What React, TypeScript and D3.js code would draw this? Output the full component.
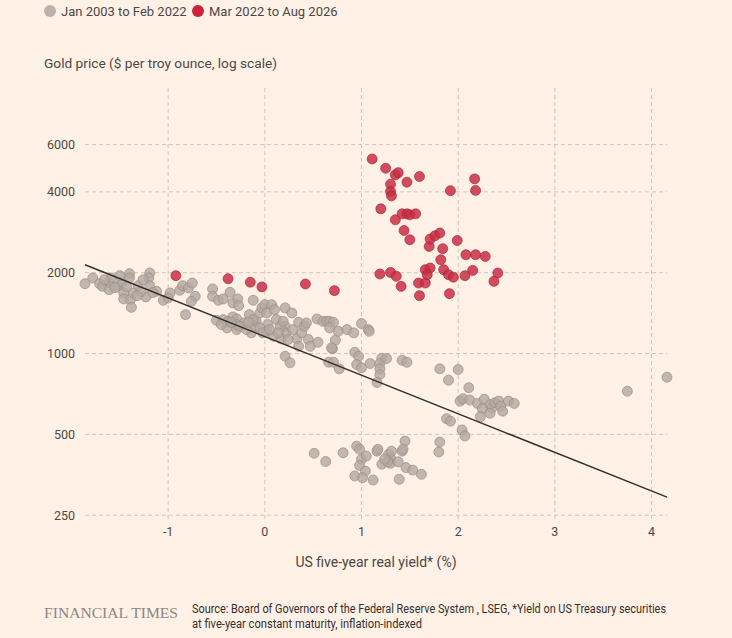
import React from "react";
import * as d3 from "d3";

// [real yield %, gold price $]
const earlyPoints: [number, number][] = [
  [-1.86,1820],[-1.78,1911],[-1.71,1820],[-1.68,1779],[-1.61,1840],[-1.61,1729],[-1.59,1911],[-1.52,1779],
  [-1.48,1840],[-1.46,1681],[-1.46,1597],[-1.40,1983],[-1.40,1911],[-1.39,1588],[-1.38,1486],[-1.36,1681],
  [-1.31,1789],[-1.23,1625],[-1.19,1995],[-1.20,1911],[-1.19,1789],[-1.12,1705],[-1.05,1578],[-0.98,1681],
  [-1.00,1611],[-0.88,1720],[-0.85,1789],[-0.79,1754],[-0.75,1830],[-0.72,1633],[-0.76,1565],[-0.82,1396],
  [-0.54,1740],[-0.54,1633],[-0.48,1578],[-0.43,1597],[-0.36,1690],[-0.33,1544],[-0.28,1597],[-0.27,1508],
  [-0.12,1578],[-1.55,1759],[-1.43,1774],[-1.28,1700],[-1.50,1950],[-1.66,1882],[-1.32,1643],[-1.16,1686],
  [-1.26,1882],
  [-0.50,1330],[-0.43,1338],[-0.38,1318],[-0.33,1369],[-0.29,1345],[-0.39,1246],[-0.29,1228],[-0.29,1282],
  [-0.21,1300],[-0.16,1396],[-0.14,1194],[-0.10,1263],[-0.09,1318],[-0.05,1416],[-0.03,1479],[0.00,1521],
  [0.02,1416],[0.03,1282],[0.02,1210],[0.07,1521],[0.10,1457],[0.12,1338],[0.09,1160],[0.17,1134],
  [0.21,1479],[0.21,1263],[0.22,1194],[0.28,1416],[0.29,1228],[0.35,1307],[0.33,1134],[0.38,1194],
  [0.41,1263],[0.43,1300],[0.45,1127],[0.47,1064],[0.35,1064],[0.24,1127],[0.54,1345],[0.55,1101],
  [0.60,1318],[0.64,1318],[0.67,1318],[0.71,1307],[0.67,1246],[0.73,1121],[0.70,1041],[0.76,1210],
  [0.85,1228],[0.92,1194],[1.00,1293],[1.07,1228],[1.08,1210],[0.69,1050],
  [0.21,977],[0.26,924],[0.66,928],[0.71,928],[0.77,877],[0.93,1011],[0.97,977],[0.95,910],
  [1.00,885],[1.09,918],[1.21,960],[1.19,918],[1.19,877],[1.19,835],[1.16,780],[1.26,958],
  [-0.26,1263],[-0.19,1228],[-0.05,1246],[-0.02,1194],[0.05,1228],[0.16,1263],[0.19,1318],[0.14,1194],
  [-0.12,1338],[-0.17,1307],[-0.35,1307],[-0.45,1282],
  [1.42,944],[1.47,928],[1.81,877],[2.00,872],[1.90,796],[2.11,746],[2.02,665],[2.05,679],
  [2.12,671],[2.20,652],[2.27,675],[2.25,623],[2.33,646],[2.35,628],[2.38,656],[2.42,665],
  [2.44,637],[2.46,610],[2.52,665],[2.58,652],[2.33,599],[2.23,582],[1.88,572],[1.92,560],
  [2.04,519],[2.07,493],[3.75,724],[4.16,816],[1.45,472],[1.81,468],
  [0.51,425],[0.63,396],[0.81,427],[0.95,452],[0.98,440],[1.00,404],[1.05,415],[0.98,383],
  [1.04,365],[0.93,350],[1.01,345],[1.12,338],[1.16,433],[1.17,440],[1.21,387],[1.28,421],
  [1.30,409],[1.30,390],[1.27,395],[1.24,404],[1.31,433],[1.38,395],[1.42,433],[1.43,440],
  [1.46,376],[1.53,368],[1.62,355],[1.39,340],[1.80,430],
];

const recentPoints: [number, number][] = [
  [1.11,5304],[1.25,4898],[1.35,4626],[1.38,4717],[1.30,4272],[1.30,4010],[1.31,3865],[1.47,4346],
  [1.60,4560],[1.92,4040],[2.17,4470],[2.18,4050],[1.20,3458],[1.35,3147],[1.42,3313],[1.47,3313],
  [1.50,3285],[1.56,3313],[1.44,2872],[1.50,2652],[1.70,2505],[1.71,2668],[1.76,2744],[1.81,2810],
  [1.99,2636],[1.84,2456],[1.82,2235],[2.08,2333],[2.18,2333],[2.28,2300],[1.19,1978],[1.30,2005],
  [1.36,1939],[1.41,1779],[1.59,1830],[1.66,1830],[1.66,2052],[1.71,2082],[1.68,1966],[1.85,2052],
  [1.90,1966],[1.95,1925],[2.07,1950],[2.15,2040],[2.41,1995],[2.37,1857],[1.60,1643],[1.91,1671],
  [-0.92,1950],[-0.38,1900],[-0.15,1843],[-0.03,1771],[0.42,1815],[0.72,1715],
];

const trendLine: [number, number][] = [[-1.86, 2140], [4.16, 292]];

const xTicks = [-1, 0, 1, 2, 3, 4];
const yTicks = [250, 500, 1000, 2000, 4000, 6000];

const legendItems = ["Jan 2003 to Feb 2022", "Mar 2022 to Aug 2026"];

const W = 732, H = 638;
const FONT = "Roboto, 'Noto Sans', sans-serif";

export default function App() {
  const x = d3.scaleLinear().domain([-1.86, 4.16]).range([85, 667]);
  const y = d3.scaleLog().domain([242, 10000]).range([519, 85]);
  const line = d3.line<[number, number]>().x(d => x(d[0])).y(d => y(d[1]));
  const gridColor = "#cfc5bd";
  const grayFill = "#b3a9a1";
  const grayStroke = "#978c85";
  const redFill = "#c92f45";
  const redStroke = "#a82036";

  return (
    <div style={{ position: "fixed", left: 0, top: 0 }}>
      <svg width={W} height={H} style={{ display: "block" }} fontFamily={FONT}>
        <rect width={W} height={H} fill="#fff1e5" />
        {/* legend */}
        <circle cx={50} cy={11} r={6} fill="#bcb2ab" />
        <text x={61} y={15.5} fontSize={13} fill="#4d4845">{legendItems[0]}</text>
        <circle cx={198} cy={11} r={6} fill="#cf2139" />
        <text x={209} y={15.5} fontSize={13} fill="#4d4845">{legendItems[1]}</text>
        <text x={44} y={68} fontSize={13.7} fill="#4d4845">Gold price ($ per troy ounce, log scale)</text>

        {/* grid */}
        {xTicks.map(t => (
          <line key={"vx" + t} x1={x(t)} x2={x(t)} y1={88} y2={519}
            stroke={gridColor} strokeDasharray="4,3" strokeWidth={1} />
        ))}
        {yTicks.map(t => (
          <line key={"hy" + t} x1={85} x2={667} y1={y(t)} y2={y(t)}
            stroke={gridColor} strokeDasharray="4,3" strokeWidth={1} />
        ))}
        {yTicks.map(t => (
          <text key={"ty" + t} x={75} y={y(t) + 4.5} textAnchor="end" fontSize={12.5} fill="#4d4845">{t}</text>
        ))}
        {xTicks.map(t => (
          <text key={"tx" + t} x={x(t)} y={535.5} textAnchor="middle" fontSize={12.5} fill="#4d4845">
            {t < 0 ? "-" + Math.abs(t) : t}
          </text>
        ))}
        <text x={376} y={566.5} textAnchor="middle" fontSize={14} fill="#4d4845">US five-year real yield* (%)</text>

        {/* points */}
        {earlyPoints.map((d, i) => (
          <circle key={"g" + i} cx={x(d[0])} cy={y(d[1])} r={5}
            fill={grayFill} fillOpacity={0.82} stroke={grayStroke} strokeOpacity={0.85} strokeWidth={0.8} />
        ))}
        <path d={line(trendLine) || ""} stroke="#33302e" strokeWidth={1.5} fill="none" />
        {recentPoints.map((d, i) => (
          <circle key={"r" + i} cx={x(d[0])} cy={y(d[1])} r={5}
            fill={redFill} fillOpacity={0.85} stroke={redStroke} strokeOpacity={0.8} strokeWidth={0.8} />
        ))}

        {/* footer */}
        <text x={44} y={618} fontSize={15} fontFamily="'Liberation Serif', 'DejaVu Serif', serif"
          fill="#8e8681" textLength={134} lengthAdjust="spacingAndGlyphs">FINANCIAL TIMES</text>
        <text x={192} y={613} fontSize={12} fill="#33302e" fontFamily="'Liberation Sans Narrow', Roboto, sans-serif"
          textLength={474} lengthAdjust="spacingAndGlyphs">Source: Board of Governors of the Federal Reserve System , LSEG, *Yield on US Treasury securities</text>
        <text x={192} y={627.5} fontSize={12} fill="#33302e" fontFamily="'Liberation Sans Narrow', Roboto, sans-serif"
          textLength={230} lengthAdjust="spacingAndGlyphs">at five-year constant maturity, inflation-indexed</text>
      </svg>
    </div>
  );
}
